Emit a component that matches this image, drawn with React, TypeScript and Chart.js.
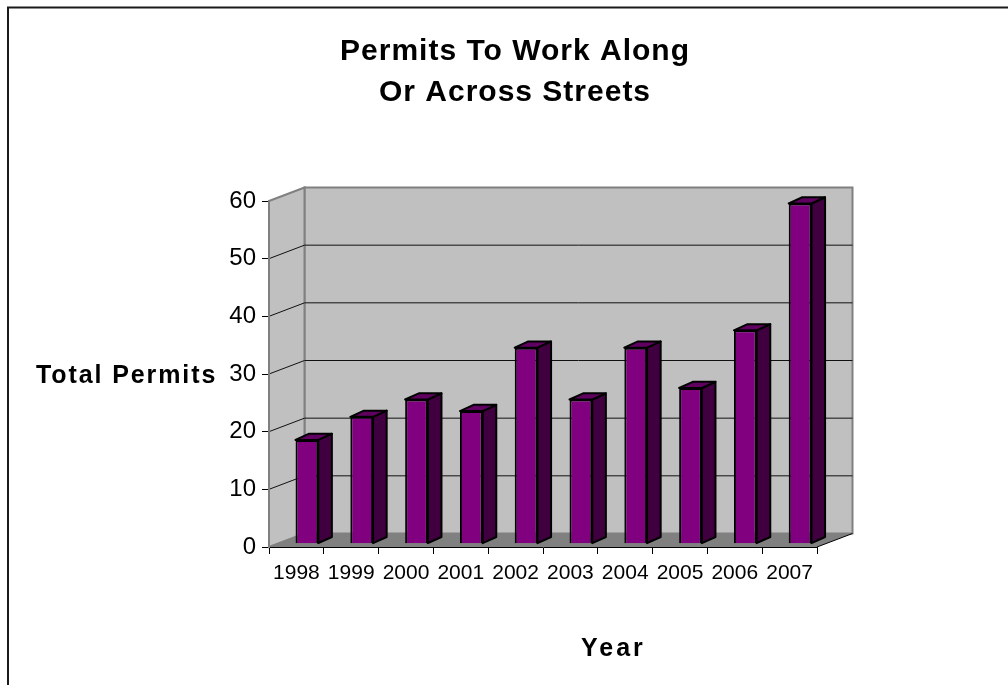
import React, { useEffect, useRef } from "react";
import { Chart, registerables } from "chart.js";

Chart.register(...registerables);

const years = ["1998", "1999", "2000", "2001", "2002", "2003", "2004", "2005", "2006", "2007"];
const permits = [18, 22, 25, 23, 34, 25, 34, 27, 37, 59];
const titleLines = ["Permits To Work Along", "Or Across Streets"];
const yAxisLabel = "Total Permits";
const xAxisLabel = "Year";

const FONT = '"Liberation Sans", Arial, sans-serif';
const WALL_DX = 35.5;
const WALL_DY = 13.5;
const BAR_SHIFT_X = 10.5;
const BAR_SHIFT_Y = 3.3;
const BAR_DX = 13.6;
const BAR_DY = 6.2;

const scene3d = {
  id: "scene3d",
  beforeDraw(chart: any) {
    const { ctx, chartArea: a, scales } = chart;
    const y = scales.y;
    const tb = chart.titleBlock;
    if (tb && !tb.__spaced) {
      const orig = tb.draw;
      tb.draw = function (...args: any[]) {
        tb.ctx.save();
        tb.ctx.letterSpacing = "1px";
        orig.apply(tb, args);
        tb.ctx.restore();
      };
      tb.__spaced = true;
    }
    ctx.save();
    ctx.fillStyle = "#ffffff";
    ctx.fillRect(0, 0, chart.width, chart.height);
    // frame
    ctx.strokeStyle = "#1a1a1a";
    ctx.lineWidth = 2;
    ctx.beginPath();
    ctx.moveTo(8, 685);
    ctx.lineTo(8, 7.5);
    ctx.lineTo(1008, 7.5);
    ctx.stroke();
    // walls
    ctx.fillStyle = "#c0c0c0";
    ctx.strokeStyle = "#808080";
    ctx.lineWidth = 2;
    ctx.beginPath();
    ctx.rect(a.left + WALL_DX, a.top - WALL_DY, a.width, a.height);
    ctx.fill();
    ctx.stroke();
    ctx.beginPath();
    ctx.moveTo(a.left, a.top);
    ctx.lineTo(a.left + WALL_DX, a.top - WALL_DY);
    ctx.lineTo(a.left + WALL_DX, a.bottom - WALL_DY);
    ctx.lineTo(a.left, a.bottom);
    ctx.closePath();
    ctx.fill();
    ctx.stroke();
    // floor
    ctx.fillStyle = "#808080";
    ctx.beginPath();
    ctx.moveTo(a.left, a.bottom);
    ctx.lineTo(a.left + WALL_DX, a.bottom - WALL_DY);
    ctx.lineTo(a.right + WALL_DX, a.bottom - WALL_DY);
    ctx.lineTo(a.right, a.bottom);
    ctx.closePath();
    ctx.fill();
    ctx.strokeStyle = "#000000";
    ctx.lineWidth = 1;
    ctx.beginPath();
    ctx.moveTo(a.right, a.bottom);
    ctx.lineTo(a.right + WALL_DX, a.bottom - WALL_DY);
    ctx.stroke();
    // gridlines over side and back wall
    ctx.strokeStyle = "#111111";
    y.ticks.forEach((t: any) => {
      if (t.value === 0 || t.value === 60) return;
      const py = y.getPixelForValue(t.value);
      ctx.beginPath();
      ctx.moveTo(a.left, py);
      ctx.lineTo(a.left + WALL_DX, py - WALL_DY);
      ctx.lineTo(a.right + WALL_DX, py - WALL_DY);
      ctx.stroke();
    });
    ctx.restore();
  },
  beforeDatasetsDraw(chart: any) {
    chart.ctx.save();
    chart.ctx.translate(BAR_SHIFT_X, -BAR_SHIFT_Y);
  },
  afterDatasetsDraw(chart: any) {
    const { ctx } = chart;
    ctx.lineWidth = 2;
    ctx.strokeStyle = "#000000";
    ctx.lineJoin = "round";
    chart.getDatasetMeta(0).data.forEach((bar: any) => {
      const p = bar.getProps(["x", "y", "base", "width"], true);
      const l = p.x - p.width / 2;
      const r = p.x + p.width / 2;
      ctx.fillStyle = "#400040";
      ctx.beginPath();
      ctx.moveTo(r, p.y);
      ctx.lineTo(r + BAR_DX, p.y - BAR_DY);
      ctx.lineTo(r + BAR_DX, p.base - BAR_DY);
      ctx.lineTo(r, p.base);
      ctx.closePath();
      ctx.fill();
      ctx.stroke();
      ctx.fillStyle = "#600060";
      ctx.beginPath();
      ctx.moveTo(l, p.y);
      ctx.lineTo(l + BAR_DX, p.y - BAR_DY);
      ctx.lineTo(r + BAR_DX, p.y - BAR_DY);
      ctx.lineTo(r, p.y);
      ctx.closePath();
      ctx.fill();
      ctx.stroke();
    });
    ctx.restore();
  },
  afterDraw(chart: any) {
    const { ctx } = chart;
    ctx.save();
    ctx.fillStyle = "#000000";
    ctx.textBaseline = "alphabetic";
    ctx.textAlign = "left";
    ctx.font = `bold 25px ${FONT}`;
    ctx.letterSpacing = "1.9px";
    ctx.fillText(yAxisLabel, 36, 383);
    ctx.letterSpacing = "3px";
    ctx.fillText(xAxisLabel, 581, 656);
    ctx.restore();
  },
};

export default function App() {
  const ref = useRef<HTMLCanvasElement>(null);
  useEffect(() => {
    const chart = new Chart(ref.current!, {
      type: "bar",
      data: {
        labels: years,
        datasets: [
          {
            label: yAxisLabel,
            data: permits,
            backgroundColor: "#800080",
            borderColor: "#000000",
            borderWidth: 2,
            barPercentage: 0.415,
            categoryPercentage: 1,
            clip: false,
          } as any,
        ],
      },
      options: {
        animation: false,
        responsive: false,
        events: [],
        layout: { padding: { left: 213, right: 191, top: 0, bottom: 98 } },
        plugins: {
          legend: { display: false },
          tooltip: { enabled: false },
          title: {
            display: true,
            text: titleLines,
            color: "#000000",
            font: { family: FONT, size: 30, weight: "bold", lineHeight: 41 / 30 },
            padding: { top: 31.5, bottom: 87.5 },
          },
        },
        scales: {
          x: {
            afterFit(s: any) {
              s.height = 40;
            },
            grid: { drawOnChartArea: false, color: "#000000", tickLength: 7, lineWidth: 1 },
            border: { color: "#000000", width: 1 },
            ticks: {
              color: "#000000",
              font: { family: FONT, size: 21 },
              padding: 7,
              maxRotation: 0,
              autoSkip: false,
            },
          },
          y: {
            min: 0,
            max: 60,
            afterFit(s: any) {
              s.width = 56;
            },
            grid: { drawOnChartArea: false, color: "#000000", tickLength: 7, lineWidth: 1 },
            border: { color: "#808080", width: 2 },
            ticks: {
              stepSize: 10,
              color: "#000000",
              font: { family: FONT, size: 24 },
              padding: 6,
            },
          },
        },
      },
      plugins: [scene3d],
    } as any);
    return () => chart.destroy();
  }, []);
  return (
    <canvas
      ref={ref}
      width={1008}
      height={685}
      style={{ position: "fixed", left: 0, top: 0, width: 1008, height: 685, display: "block" }}
    />
  );
}
